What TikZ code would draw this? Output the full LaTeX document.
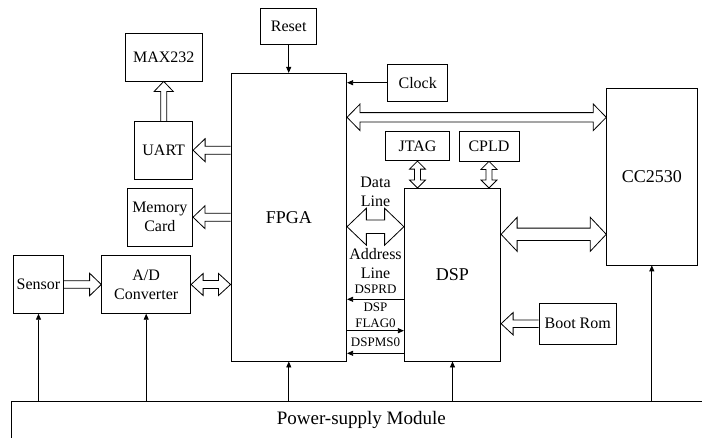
\documentclass[tikz,border=0pt]{standalone}
\usepackage{fontspec}
\setmainfont{Liberation Serif}
\usetikzlibrary{arrows.meta,calc}

% hollow (block) arrows: tail, tip, half shaft, half head, head length
\newcommand{\hollowarrow}[5]{%
  \coordinate (hh) at ($(#2)!#5!(#1)$);
  \draw[hollow] ($(#1)!#3!90:(#2)$) -- ($(hh)!#3!-90:(#1)$) -- ($(hh)!#4!-90:(#1)$)
    -- (#2) -- ($(hh)!#4!90:(#1)$) -- ($(hh)!#3!90:(#1)$) -- ($(#1)!#3!-90:(#2)$);
}
\newcommand{\hollowdouble}[5]{%
  \coordinate (ha) at ($(#1)!#5!(#2)$);
  \coordinate (hb) at ($(#2)!#5!(#1)$);
  \draw[hollow] (#1) -- ($(ha)!#4!90:(#2)$) -- ($(ha)!#3!90:(#2)$)
    -- ($(hb)!#3!-90:(#1)$) -- ($(hb)!#4!-90:(#1)$) -- (#2)
    -- ($(hb)!#4!90:(#1)$) -- ($(hb)!#3!90:(#1)$)
    -- ($(ha)!#3!-90:(#2)$) -- ($(ha)!#4!-90:(#2)$) -- cycle;
}

\tikzset{
  box/.style={draw, line width=0.8pt, inner sep=0pt, align=center,
    font=\fontsize{16}{19}\selectfont},
  bigbox/.style={box, font=\fontsize{18}{21}\selectfont},
  hollow/.style={draw, line width=0.8pt, line join=miter},
  wire/.style={draw, line width=0.8pt, -{Triangle[length=6pt,width=5pt]}},
  lbl/.style={inner sep=0pt, align=center, font=\fontsize{16}{19}\selectfont},
  sig/.style={inner sep=0pt, align=center, font=\fontsize{13}{16}\selectfont},
}

\begin{document}
\begin{tikzpicture}[x=1pt,y=-1pt]
  \useasboundingbox (0,0) rectangle (702,437);

  % blocks
  \node[box, minimum width=56pt, minimum height=36.3pt] (reset) at (288.7,26.2) {Reset};
  \node[box, minimum width=77.3pt, minimum height=48pt] (max) at (163.7,57) {MAX232};
  \node[bigbox, minimum width=115.7pt, minimum height=287.7pt] (fpga) at (288.8,217.2) {FPGA};
  \node[box, minimum width=60pt, minimum height=36.7pt] (clock) at (417.7,82.7) {Clock};
  \node[box, minimum width=58pt, minimum height=57.7pt] (uart) at (163.7,150.2) {UART};
  \node[box, minimum width=65.7pt, minimum height=57.7pt] (mem) at (159.8,217.2) {Memory\\Card};
  \node[box, minimum width=50.4pt, minimum height=57.6pt] (sensor) at (38.5,284.5) {Sensor};
  \node[box, minimum width=89pt, minimum height=57.6pt] (adc) at (146.2,284.5) {A/D\\Converter};
  \node[box, minimum width=63.6pt, minimum height=29pt] (jtag) at (417.5,146.2) {JTAG};
  \node[box, minimum width=60pt, minimum height=30pt] (cpld) at (489,146) {CPLD};
  \node[bigbox, minimum width=96.4pt, minimum height=172.7pt] (dsp) at (452.5,274.7) {DSP};
  \node[bigbox, minimum width=90.3pt, minimum height=176.3pt] (cc) at (651.8,176.8) {CC2530};
  \node[box, minimum width=77.3pt, minimum height=40.7pt] (boot) at (577.7,323.7) {Boot Rom};
  \node[box, minimum width=699.3pt, minimum height=36.6pt,
    font=\fontsize{19}{22}\selectfont] (power) at (361.3,420) {Power-supply Module};

  % bus labels
  \node[lbl] (datalbl) at (375.5,192.2) {Data\\Line};
  \node[lbl] (addrlbl) at (375.5,264) {Address\\Line};
  \node[sig] (rdlbl) at (375.5,289.5) {DSPRD};
  \node[sig] (flaglbl) at (375.5,315.3) {DSP\\FLAG0};
  \node[sig] (mslbl) at (375.5,342.7) {DSPMS0};

  % rows of the buses
  \coordinate (bus) at (0,117.3);
  \coordinate (dbus) at (0,226.7);
  \coordinate (cbus) at (0,234.3);
  \coordinate (rd) at (0,299.3);
  \coordinate (flag) at (0,330.7);
  \coordinate (ms) at (0,353.3);

  % control lines
  \draw[wire] (reset.south) -- (reset.south |- fpga.north);
  \draw[wire] (clock.west) -- (clock.west -| fpga.east);
  \draw[wire] (dsp.west |- rd) -- (fpga.east |- rd);
  \draw[wire] (fpga.east |- flag) -- (dsp.west |- flag);
  \draw[wire] (dsp.west |- ms) -- (fpga.east |- ms);
  \foreach \n in {sensor,adc,fpga,dsp,cc}
    \draw[wire] (\n.south |- power.north) -- (\n.south);

  % block arrows
  \coordinate (u1) at (fpga.west |- uart.east);
  \coordinate (m1) at (fpga.west |- mem.east);
  \coordinate (a1) at (fpga.west |- adc.east);
  \coordinate (c1) at (fpga.east |- bus);
  \coordinate (c2) at (cc.west |- bus);
  \coordinate (j1) at (jtag.south |- dsp.north);
  \coordinate (p1) at (cpld.south |- dsp.north);
  \coordinate (d1) at (fpga.east |- dbus);
  \coordinate (d2) at (dsp.west |- dbus);
  \coordinate (s1) at (dsp.east |- cbus);
  \coordinate (s2) at (cc.west |- cbus);
  \coordinate (b1) at (dsp.east |- boot.west);
  \hollowarrow{uart.north}{max.south}{3pt}{9.5pt}{10pt}
  \hollowarrow{u1}{uart.east}{4pt}{11.5pt}{12pt}
  \hollowarrow{m1}{mem.east}{4pt}{11.5pt}{12pt}
  \hollowarrow{sensor.east}{adc.west}{3.8pt}{11.3pt}{11.7pt}
  \hollowarrow{boot.west}{b1}{3.7pt}{11.2pt}{12pt}
  \hollowdouble{adc.east}{a1}{4pt}{11pt}{12pt}
  \hollowdouble{c1}{c2}{4.7pt}{13.3pt}{13pt}
  \hollowdouble{jtag.south}{j1}{3pt}{8pt}{8pt}
  \hollowdouble{cpld.south}{p1}{3pt}{8pt}{8pt}
  \hollowdouble{d1}{d2}{6.7pt}{18.5pt}{19.3pt}
  \hollowdouble{s1}{s2}{6.2pt}{17pt}{16pt}
\end{tikzpicture}
\end{document}
